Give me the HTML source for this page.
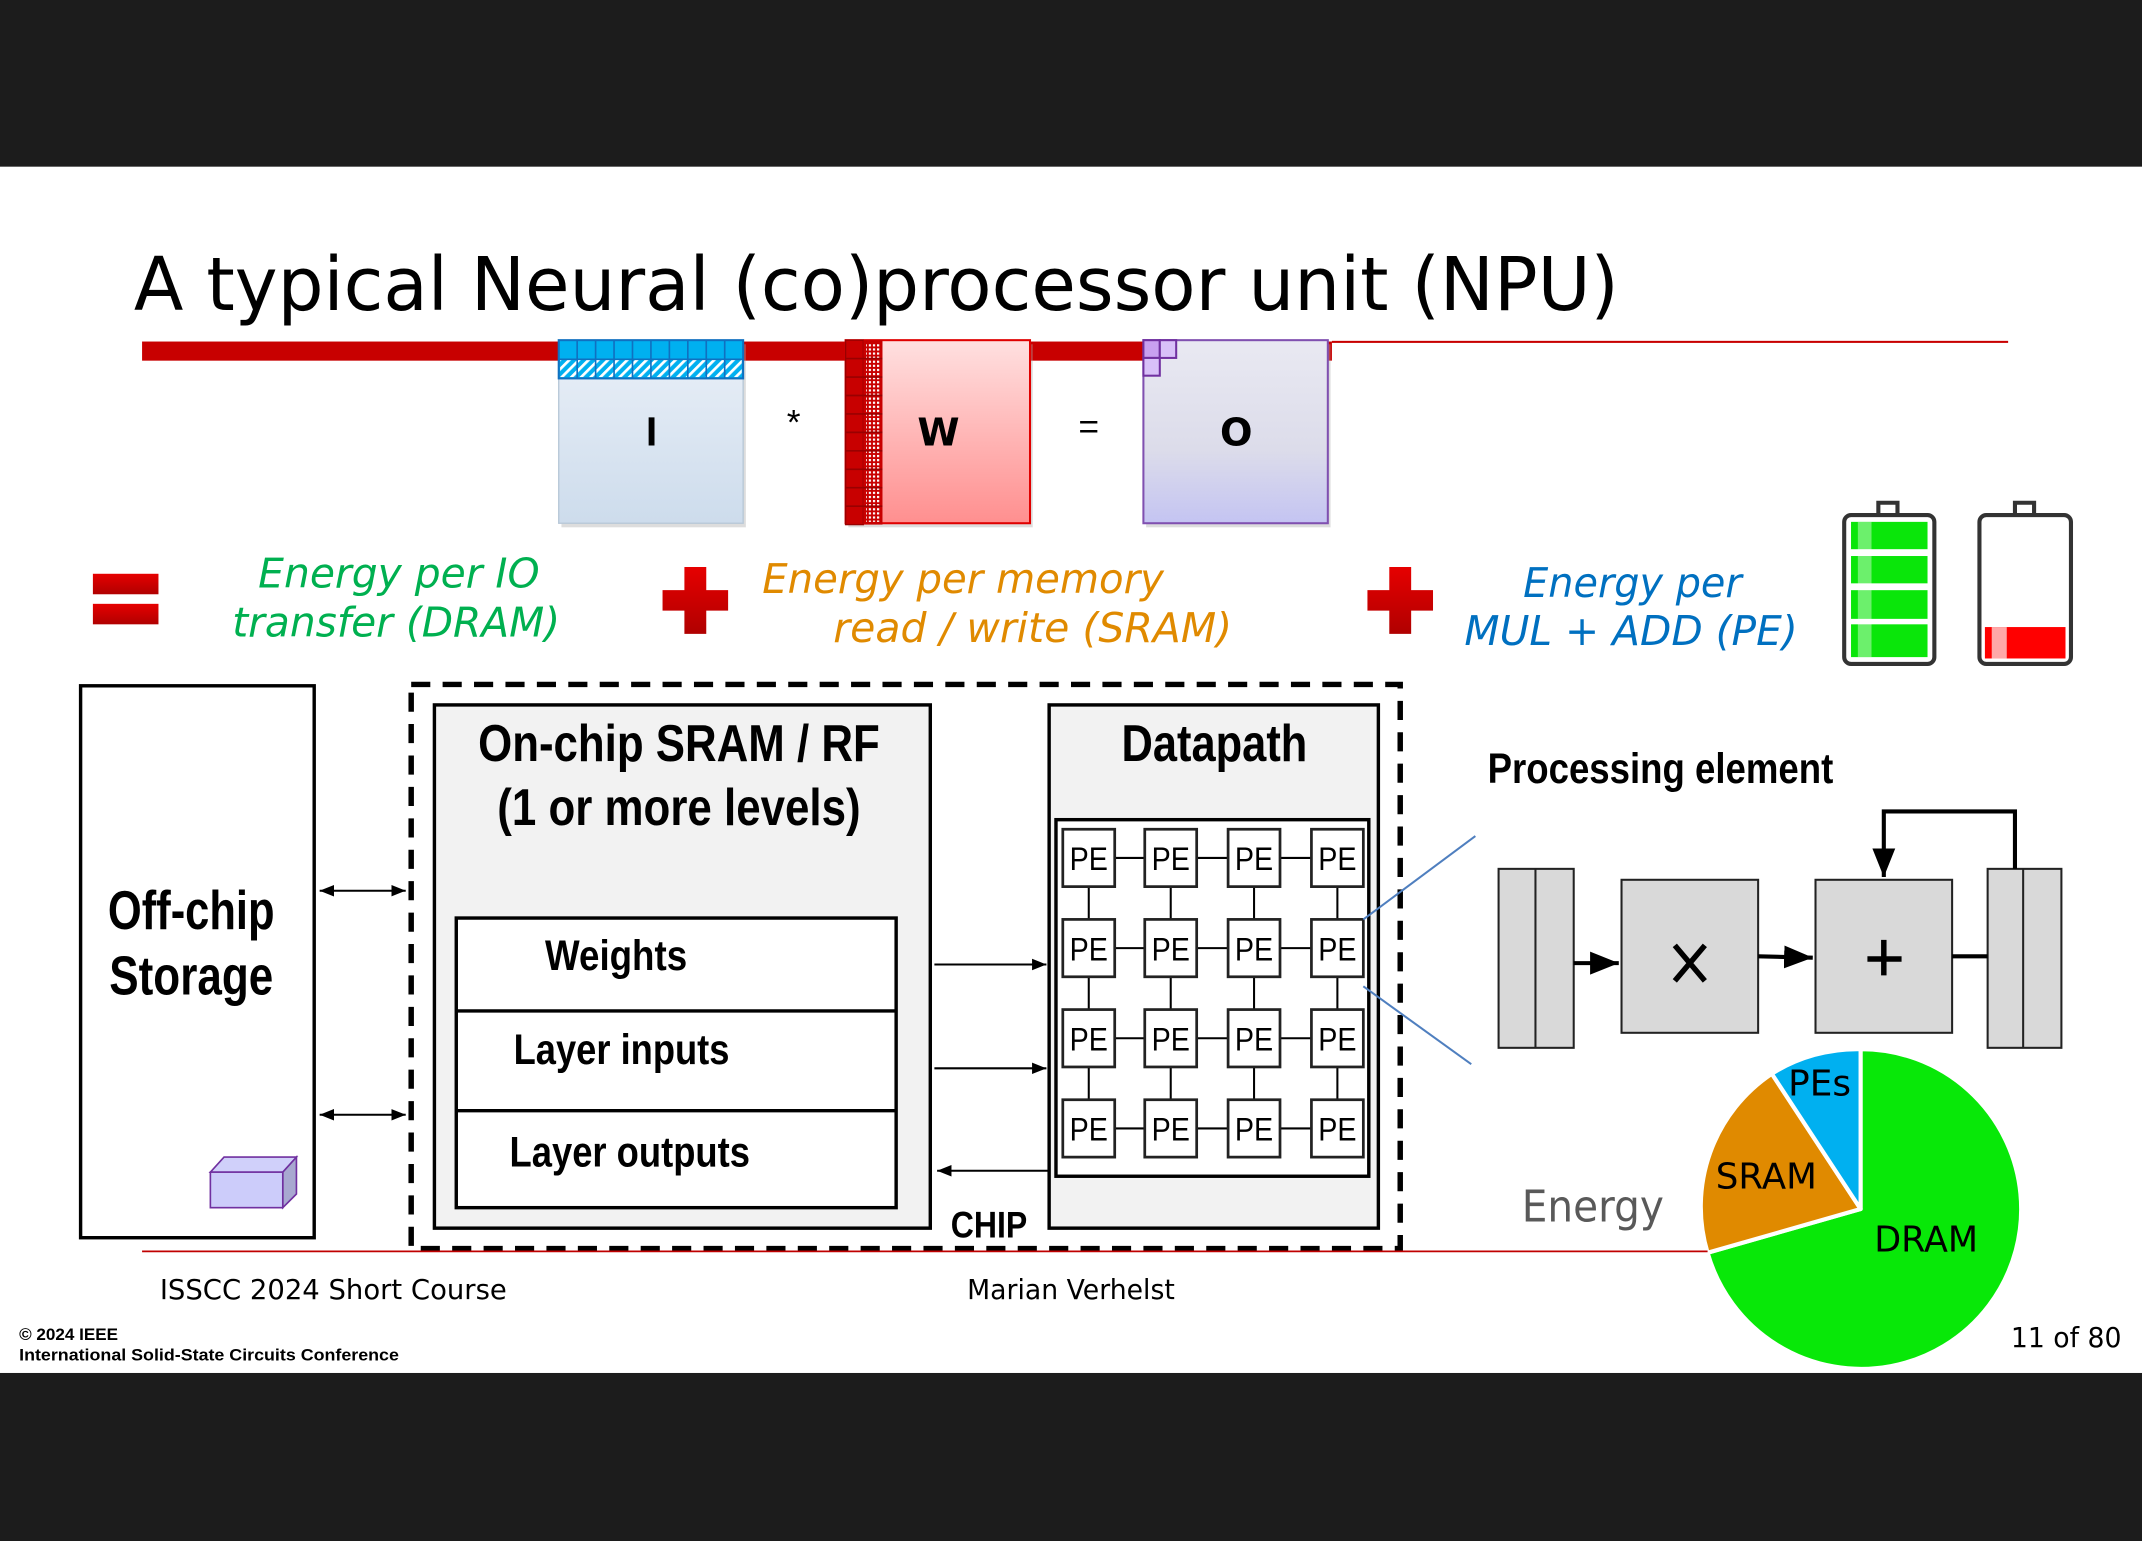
<!DOCTYPE html>
<html><head><meta charset="utf-8"><style>
html,body{margin:0;padding:0;background:#fff;}
svg{display:block;}
text{font-family:"Liberation Sans",sans-serif;}
.v{font-family:"DejaVu Sans","Liberation Sans",sans-serif;}
</style></head><body>
<svg width="2142" height="1541" viewBox="0 0 1568 1128" preserveAspectRatio="none" xmlns="http://www.w3.org/2000/svg">
<defs>
<linearGradient id="gI" x1="0" y1="0" x2="0" y2="1"><stop offset="0" stop-color="#eaf0f8"/><stop offset="1" stop-color="#cddcec"/></linearGradient>
<linearGradient id="gW" x1="0" y1="0" x2="0" y2="1"><stop offset="0" stop-color="#ffe0e0"/><stop offset="1" stop-color="#ff8f8f"/></linearGradient>
<linearGradient id="gO" x1="0" y1="0" x2="0" y2="1"><stop offset="0" stop-color="#e9e9f2"/><stop offset="0.6" stop-color="#dcdcea"/><stop offset="1" stop-color="#c4c4f2"/></linearGradient>
<linearGradient id="gR" x1="0" y1="0" x2="0" y2="1"><stop offset="0" stop-color="#e60000"/><stop offset="1" stop-color="#b00000"/></linearGradient>
<pattern id="hatch" width="5" height="5" patternUnits="userSpaceOnUse" patternTransform="rotate(45)"><rect width="5" height="5" fill="#00b0f0"/><rect width="2" height="5" fill="#fff"/></pattern>
<pattern id="dots" width="3" height="3" patternUnits="userSpaceOnUse"><rect width="3" height="3" fill="#c80000"/><rect width="1.6" height="1.6" fill="#fff"/></pattern>
<marker id="ar" viewBox="0 0 10 10" refX="10" refY="5" markerWidth="7" markerHeight="7" orient="auto-start-reverse"><path d="M0,1 L10,5 L0,9 Z" fill="#000"/></marker>
</defs>
<rect x="0" y="0" width="1568" height="122" fill="#1c1c1c"/>
<rect x="0" y="1005" width="1568" height="123" fill="#1c1c1c"/>

<text x="98" y="227" class="v" font-size="54" textLength="1087" lengthAdjust="spacingAndGlyphs">A typical Neural (co)processor unit (NPU)</text>

<rect x="104" y="250" width="871" height="14" fill="#c80000"/>
<rect x="975" y="249.5" width="495" height="1.5" fill="#c80000"/>

<!-- I -->
<rect x="411" y="252" width="135" height="134" fill="#aaa" opacity="0.4"/>
<rect x="409" y="249" width="135" height="134" fill="url(#gI)" stroke="#b8c8d8"/>
<rect x="409" y="249" width="135" height="28" fill="#00b0f0" stroke="#1070c0" stroke-width="1.5"/>
<rect x="410" y="263" width="133" height="13" fill="url(#hatch)"/>
<g stroke="#1070c0" stroke-width="1.2">
<line x1="409" y1="263" x2="544" y2="263"/>
<line x1="422.5" y1="249" x2="422.5" y2="277"/><line x1="436" y1="249" x2="436" y2="277"/><line x1="449.5" y1="249" x2="449.5" y2="277"/><line x1="463" y1="249" x2="463" y2="277"/><line x1="476.5" y1="249" x2="476.5" y2="277"/><line x1="490" y1="249" x2="490" y2="277"/><line x1="503.5" y1="249" x2="503.5" y2="277"/><line x1="517" y1="249" x2="517" y2="277"/><line x1="530.5" y1="249" x2="530.5" y2="277"/>
</g>
<text x="477" y="326" font-size="30" font-weight="bold" text-anchor="middle" font-family="Liberation Serif, serif">I</text>
<text x="581" y="318" font-size="26" text-anchor="middle">*</text>

<!-- W -->
<rect x="621" y="252" width="135" height="134" fill="#aaa" opacity="0.4"/>
<rect x="619" y="249" width="135" height="134" fill="url(#gW)" stroke="#e00000" stroke-width="1.5"/>
<rect x="619" y="249" width="13" height="135" fill="#c80000" stroke="#900" stroke-width="1"/>
<rect x="632" y="249" width="14" height="135" fill="#c80000"/>
<rect x="634" y="251" width="10" height="131" fill="url(#dots)"/>
<g stroke="#900" stroke-width="1.2">
<line x1="619" y1="262.5" x2="646" y2="262.5"/><line x1="619" y1="276" x2="646" y2="276"/><line x1="619" y1="289.5" x2="646" y2="289.5"/><line x1="619" y1="303" x2="646" y2="303"/><line x1="619" y1="316.5" x2="646" y2="316.5"/><line x1="619" y1="330" x2="646" y2="330"/><line x1="619" y1="343.5" x2="646" y2="343.5"/><line x1="619" y1="357" x2="646" y2="357"/><line x1="619" y1="370.5" x2="646" y2="370.5"/>
</g>
<text x="687" y="326" font-size="28" font-weight="bold" text-anchor="middle" class="v">W</text>
<text x="797" y="321" font-size="26" text-anchor="middle">=</text>

<!-- O -->
<rect x="839" y="252" width="135" height="134" fill="#aaa" opacity="0.4"/>
<rect x="837" y="249" width="135" height="134" fill="url(#gO)" stroke="#8050b0" stroke-width="1.5"/>
<rect x="837" y="249" width="12" height="13" fill="#c8a0f0" stroke="#7030a0" stroke-width="1.5"/>
<rect x="849" y="249" width="12" height="13" fill="#d8c0f8" stroke="#7030a0" stroke-width="1.5"/>
<rect x="837" y="262" width="12" height="13" fill="#d8c0f8" stroke="#7030a0" stroke-width="1.5"/>
<text x="905" y="326" font-size="28" font-weight="bold" text-anchor="middle" class="v">O</text>

<!-- equation row -->
<rect x="68" y="420" width="48" height="15" fill="url(#gR)"/>
<rect x="68" y="442" width="48" height="15" fill="url(#gR)"/>
<text x="292" y="430" font-size="30" font-style="italic" fill="#00b050" text-anchor="middle" class="v" textLength="206" lengthAdjust="spacingAndGlyphs">Energy per IO</text>
<text x="290" y="466" font-size="30" font-style="italic" fill="#00b050" text-anchor="middle" class="v" textLength="240" lengthAdjust="spacingAndGlyphs">transfer (DRAM)</text>
<path d="M501,415 h16 v17 h16 v15 h-16 v17 h-16 v-17 h-16 v-15 h16 z" fill="url(#gR)"/>
<text x="705" y="434" font-size="30" font-style="italic" fill="#e08a00" text-anchor="middle" class="v" textLength="294" lengthAdjust="spacingAndGlyphs">Energy per memory</text>
<text x="756" y="470" font-size="30" font-style="italic" fill="#e08a00" text-anchor="middle" class="v" textLength="292" lengthAdjust="spacingAndGlyphs">read / write (SRAM)</text>
<path d="M1017,415 h16 v17 h16 v15 h-16 v17 h-16 v-17 h-16 v-15 h16 z" fill="url(#gR)"/>
<text x="1195" y="437" font-size="30" font-style="italic" fill="#0070c0" text-anchor="middle" class="v" textLength="160" lengthAdjust="spacingAndGlyphs">Energy per</text>
<text x="1194" y="472" font-size="30" font-style="italic" fill="#0070c0" text-anchor="middle" class="v" textLength="244" lengthAdjust="spacingAndGlyphs">MUL + ADD (PE)</text>

<!-- batteries -->
<path d="M1375,377 v-9 h14 v9" fill="none" stroke="#333" stroke-width="3"/>
<rect x="1350" y="377" width="66" height="109" rx="5" fill="#fff" stroke="#333" stroke-width="3"/>
<rect x="1355" y="382" width="56" height="20" fill="#0ae60a"/><rect x="1355" y="407" width="56" height="20" fill="#0ae60a"/><rect x="1355" y="432" width="56" height="21" fill="#0ae60a"/><rect x="1355" y="457" width="56" height="24" fill="#0ae60a"/>
<rect x="1360" y="382" width="10" height="99" fill="#fff" opacity="0.4"/>
<path d="M1475,377 v-9 h14 v9" fill="none" stroke="#333" stroke-width="3"/>
<rect x="1449" y="377" width="67" height="109" rx="5" fill="#fff" stroke="#333" stroke-width="3"/>
<rect x="1453" y="459" width="59" height="23" fill="#ff0000"/>
<rect x="1458" y="459" width="11" height="23" fill="#ffa8a8"/>

<!-- off-chip -->
<rect x="59" y="502" width="171" height="404" fill="#fff" stroke="#000" stroke-width="2.5"/>
<text x="140" y="680" font-size="40" font-weight="bold" text-anchor="middle" textLength="122" lengthAdjust="spacingAndGlyphs">Off-chip</text>
<text x="140" y="728" font-size="40" font-weight="bold" text-anchor="middle" textLength="120" lengthAdjust="spacingAndGlyphs">Storage</text>
<path d="M154,858 l10,-11 h53 l-10,11 z" fill="#d0d0fa" stroke="#7030a0" stroke-width="1.2"/>
<path d="M207,858 l10,-11 v27 l-10,10 z" fill="#a8a8d0" stroke="#7030a0" stroke-width="1.2"/>
<rect x="154" y="858" width="53" height="26" fill="#ccccfa" stroke="#7030a0" stroke-width="1.2"/>

<line x1="234" y1="652" x2="297" y2="652" stroke="#000" stroke-width="1.5" marker-start="url(#ar)" marker-end="url(#ar)"/>
<line x1="234" y1="816" x2="297" y2="816" stroke="#000" stroke-width="1.5" marker-start="url(#ar)" marker-end="url(#ar)"/>

<!-- chip -->
<rect x="301" y="501" width="724" height="413" fill="none" stroke="#000" stroke-width="4" stroke-dasharray="14,9"/>
<rect x="318" y="516" width="363" height="383" fill="#f2f2f2" stroke="#000" stroke-width="2.5"/>
<text x="497" y="557" font-size="38" font-weight="bold" text-anchor="middle" textLength="294" lengthAdjust="spacingAndGlyphs">On-chip SRAM / RF</text>
<text x="497" y="604" font-size="38" font-weight="bold" text-anchor="middle" textLength="266" lengthAdjust="spacingAndGlyphs">(1 or more levels)</text>
<rect x="334" y="672" width="322" height="212" fill="#fff" stroke="#000" stroke-width="2.5"/>
<line x1="334" y1="740" x2="656" y2="740" stroke="#000" stroke-width="2.5"/>
<line x1="334" y1="813" x2="656" y2="813" stroke="#000" stroke-width="2.5"/>
<text x="399" y="710" font-size="31" font-weight="bold" textLength="104" lengthAdjust="spacingAndGlyphs">Weights</text>
<text x="376" y="779" font-size="31" font-weight="bold" textLength="158" lengthAdjust="spacingAndGlyphs">Layer inputs</text>
<text x="373" y="854" font-size="31" font-weight="bold" textLength="176" lengthAdjust="spacingAndGlyphs">Layer outputs</text>
<text x="696" y="906" font-size="27" font-weight="bold" textLength="56" lengthAdjust="spacingAndGlyphs">CHIP</text>

<line x1="684" y1="706" x2="766" y2="706" stroke="#000" stroke-width="1.5" marker-end="url(#ar)"/>
<line x1="684" y1="782" x2="766" y2="782" stroke="#000" stroke-width="1.5" marker-end="url(#ar)"/>
<line x1="768" y1="857" x2="686" y2="857" stroke="#000" stroke-width="1.5" marker-end="url(#ar)"/>

<rect x="768" y="516" width="241" height="383" fill="#f2f2f2" stroke="#000" stroke-width="2.5"/>
<text x="889" y="557" font-size="38" font-weight="bold" text-anchor="middle" textLength="136" lengthAdjust="spacingAndGlyphs">Datapath</text>
<rect x="773" y="600" width="229" height="261" fill="#fff" stroke="#000" stroke-width="2.5"/>
<g stroke="#000" stroke-width="1.5">
<line x1="797" y1="628" x2="980" y2="628"/><line x1="797" y1="694" x2="980" y2="694"/><line x1="797" y1="760" x2="980" y2="760"/><line x1="797" y1="826" x2="980" y2="826"/>
<line x1="797" y1="628" x2="797" y2="826"/><line x1="857" y1="628" x2="857" y2="826"/><line x1="918" y1="628" x2="918" y2="826"/><line x1="979" y1="628" x2="979" y2="826"/>
</g>
<g fill="#fff" stroke="#222" stroke-width="2">
<rect x="778" y="607" width="38" height="42"/><rect x="838" y="607" width="38" height="42"/><rect x="899" y="607" width="38" height="42"/><rect x="960" y="607" width="38" height="42"/>
<rect x="778" y="673" width="38" height="42"/><rect x="838" y="673" width="38" height="42"/><rect x="899" y="673" width="38" height="42"/><rect x="960" y="673" width="38" height="42"/>
<rect x="778" y="739" width="38" height="42"/><rect x="838" y="739" width="38" height="42"/><rect x="899" y="739" width="38" height="42"/><rect x="960" y="739" width="38" height="42"/>
<rect x="778" y="805" width="38" height="42"/><rect x="838" y="805" width="38" height="42"/><rect x="899" y="805" width="38" height="42"/><rect x="960" y="805" width="38" height="42"/>
</g>
<g font-size="24" text-anchor="middle">
<text x="797" y="637" textLength="28" lengthAdjust="spacingAndGlyphs">PE</text><text x="857" y="637" textLength="28" lengthAdjust="spacingAndGlyphs">PE</text><text x="918" y="637" textLength="28" lengthAdjust="spacingAndGlyphs">PE</text><text x="979" y="637" textLength="28" lengthAdjust="spacingAndGlyphs">PE</text>
<text x="797" y="703" textLength="28" lengthAdjust="spacingAndGlyphs">PE</text><text x="857" y="703" textLength="28" lengthAdjust="spacingAndGlyphs">PE</text><text x="918" y="703" textLength="28" lengthAdjust="spacingAndGlyphs">PE</text><text x="979" y="703" textLength="28" lengthAdjust="spacingAndGlyphs">PE</text>
<text x="797" y="769" textLength="28" lengthAdjust="spacingAndGlyphs">PE</text><text x="857" y="769" textLength="28" lengthAdjust="spacingAndGlyphs">PE</text><text x="918" y="769" textLength="28" lengthAdjust="spacingAndGlyphs">PE</text><text x="979" y="769" textLength="28" lengthAdjust="spacingAndGlyphs">PE</text>
<text x="797" y="835" textLength="28" lengthAdjust="spacingAndGlyphs">PE</text><text x="857" y="835" textLength="28" lengthAdjust="spacingAndGlyphs">PE</text><text x="918" y="835" textLength="28" lengthAdjust="spacingAndGlyphs">PE</text><text x="979" y="835" textLength="28" lengthAdjust="spacingAndGlyphs">PE</text>
</g>

<line x1="998" y1="673" x2="1080" y2="612" stroke="#4f7fbf" stroke-width="1.5"/>
<line x1="998" y1="722" x2="1077" y2="779" stroke="#4f7fbf" stroke-width="1.5"/>

<!-- PE detail -->
<text x="1089" y="573" font-size="31" font-weight="bold" textLength="253" lengthAdjust="spacingAndGlyphs">Processing element</text>
<g fill="#d9d9d9" stroke="#222" stroke-width="1.5">
<rect x="1097" y="636" width="55" height="131"/><rect x="1187" y="644" width="100" height="112"/><rect x="1329" y="644" width="100" height="112"/><rect x="1455" y="636" width="54" height="131"/>
</g>
<line x1="1124" y1="636" x2="1124" y2="767" stroke="#222" stroke-width="1.5"/>
<line x1="1481" y1="636" x2="1481" y2="767" stroke="#222" stroke-width="1.5"/>
<line x1="1152" y1="705" x2="1185" y2="705" stroke="#000" stroke-width="3" marker-end="url(#ar)"/>
<line x1="1287" y1="700" x2="1327" y2="701" stroke="#000" stroke-width="3" marker-end="url(#ar)"/>
<line x1="1429" y1="700" x2="1455" y2="700" stroke="#000" stroke-width="3"/>
<path d="M1475,636 V594 H1379 V642" fill="none" stroke="#000" stroke-width="3" marker-end="url(#ar)"/>
<path d="M1226,692 L1248,718 M1248,692 L1226,718" stroke="#000" stroke-width="4"/>
<path d="M1379,688 V714 M1367,702 H1392" stroke="#000" stroke-width="4"/>

<!-- pie -->
<g stroke="#fff" stroke-width="3" stroke-linejoin="round">
<path d="M1362,885 L1362,768 A117,117 0 1 1 1250,917 Z" fill="#08e808"/>
<path d="M1362,885 L1250,917 A117,117 0 0 1 1297,786 Z" fill="#e08a00"/>
<path d="M1362,885 L1297,786 A117,117 0 0 1 1362,768 Z" fill="#00b0f0"/>
</g>
<text x="1332" y="802" font-size="26" text-anchor="middle" class="v" textLength="46" lengthAdjust="spacingAndGlyphs">PEs</text>
<text x="1293" y="870" font-size="26" text-anchor="middle" class="v" textLength="74" lengthAdjust="spacingAndGlyphs">SRAM</text>
<text x="1410" y="916" font-size="26" text-anchor="middle" class="v" textLength="76" lengthAdjust="spacingAndGlyphs">DRAM</text>
<text x="1114" y="894" font-size="32" fill="#595959" class="v" textLength="104" lengthAdjust="spacingAndGlyphs">Energy</text>

<!-- footer -->
<line x1="104" y1="916" x2="1250" y2="916" stroke="#c00000" stroke-width="1.2"/>
<text x="117" y="951" font-size="20" class="v" textLength="254" lengthAdjust="spacingAndGlyphs">ISSCC 2024 Short Course</text>
<text x="708" y="951" font-size="20" class="v" textLength="152" lengthAdjust="spacingAndGlyphs">Marian Verhelst</text>
<text x="14" y="981" font-size="12.5" font-weight="bold">© 2024 IEEE</text>
<text x="14" y="996" font-size="12.5" font-weight="bold" textLength="278" lengthAdjust="spacingAndGlyphs">International Solid-State Circuits Conference</text>
<text x="1472" y="986" font-size="20" class="v" textLength="81" lengthAdjust="spacingAndGlyphs">11 of 80</text>
</svg>
</body></html>
